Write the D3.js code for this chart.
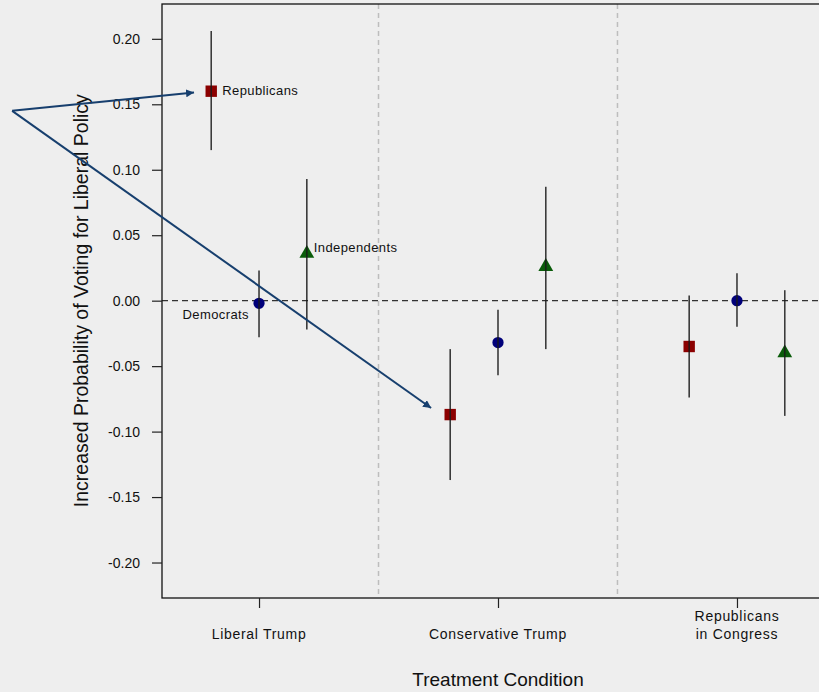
<!DOCTYPE html>
<html>
<head>
<meta charset="utf-8">
<script src="https://cdn.jsdelivr.net/npm/d3@7"></script>
<style>
  body { margin: 0; background: #eeeeee; }
  svg { display: block; font-family: "Liberation Sans", Arial, sans-serif; }
</style>
</head>
<body>
<svg id="mainsvg" width="819" height="692"></svg>
<script>
// conditions on the x axis
const conditions = ['Liberal Trump', 'Conservative Trump', 'Republicans\nin Congress'];
const groups = ['Republicans', 'Democrats', 'Independents'];
const groupOffset = [-0.2, 0, 0.2];

// point estimates and 95% intervals, per group, one value per condition
const estRep = [0.160, -0.087, -0.035];
const loRep = [0.115, -0.137, -0.074];
const hiRep = [0.206, -0.037, 0.004];

const estDem = [-0.002, -0.032, 0.000];
const loDem = [-0.028, -0.057, -0.020];
const hiDem = [0.023, -0.007, 0.021];

const estInd = [0.036, 0.026, -0.040];
const loInd = [-0.022, -0.037, -0.088];
const hiInd = [0.093, 0.087, 0.008];

const yTicks = [0.20, 0.15, 0.10, 0.05, 0.00, -0.05, -0.10, -0.15, -0.20];

// annotation arrows (data units): shared tail, two heads
const arrowTail = [-0.033, 0.145];
const arrowHeads = [[0.728, 0.159], [1.72, -0.082]];

const svg = d3.select('#mainsvg');
const margin = { top: 4, left: 162, right: -15, bottom: 94 };
const width = +svg.attr('width');
const height = +svg.attr('height');
const innerW = width - margin.left - margin.right;
const innerH = height - margin.top - margin.bottom;

const x = d3.scaleLinear().domain([0.594, 3.406]).range([margin.left, margin.left + innerW]);
const y = d3.scaleLinear().domain([-0.2271, 0.2266]).range([margin.top + innerH, margin.top]);

svg.append('rect').attr('width', width).attr('height', height).attr('fill', '#eeeeee');

// separators between conditions
svg.selectAll('.sep').data([1.5, 2.5]).enter()
    .append('line')
    .attr('x1', d => x(d)).attr('x2', d => x(d))
    .attr('y1', y.range()[1]).attr('y2', y.range()[0])
    .attr('stroke', '#bdbdbd')
    .attr('stroke-width', 1.5)
    .attr('stroke-dasharray', '5,4');

// zero reference line
svg.append('line')
    .attr('x1', x.range()[0]).attr('x2', x.range()[1])
    .attr('y1', y(0)).attr('y2', y(0))
    .attr('stroke', '#333')
    .attr('stroke-width', 1.2)
    .attr('stroke-dasharray', '6,4');

// frame
svg.append('rect')
    .attr('x', x.range()[0]).attr('y', y.range()[1])
    .attr('width', innerW).attr('height', innerH)
    .attr('fill', 'none').attr('stroke', '#111').attr('stroke-width', 1.3);

// y axis
const yAxis = d3.axisLeft(y).tickValues(yTicks).tickSize(10).tickPadding(12)
    .tickFormat(d3.format('.2f'));
const gy = svg.append('g').attr('transform', `translate(${margin.left},0)`).call(yAxis);
gy.select('.domain').remove();
gy.selectAll('.tick line').attr('stroke', '#222').attr('stroke-width', 1.2);
gy.selectAll('.tick text').attr('font-size', 14).attr('fill', '#111')
    .text(d => d3.format('.2f')(d).replace('−', '-'));

// x axis
const xAxis = d3.axisBottom(x).tickValues([1, 2, 3]).tickSize(10).tickFormat('');
const gx = svg.append('g').attr('transform', `translate(0,${margin.top + innerH})`).call(xAxis);
gx.select('.domain').remove();
gx.selectAll('.tick line').attr('stroke', '#222').attr('stroke-width', 1.2);

svg.selectAll('.cond').data(conditions).enter()
    .append('text')
    .attr('class', 'cond')
    .attr('text-anchor', 'middle')
    .attr('font-size', 14)
    .attr('letter-spacing', 0.7)
    .attr('fill', '#111')
    .each(function(d, i) {
        const lines = d.split('\n');
        const t = d3.select(this);
        const y0 = lines.length > 1 ? 621 : 639;
        lines.forEach((s, j) => {
            t.append('tspan').attr('x', x(i + 1)).attr('y', y0 + j * 18).text(s);
        });
    });

// axis titles
svg.append('text')
    .attr('x', x(2)).attr('y', 686)
    .attr('text-anchor', 'middle')
    .attr('font-size', 19)
    .attr('fill', '#111')
    .text('Treatment Condition');

svg.append('text')
    .attr('transform', `translate(88,${y(0)}) rotate(-90)`)
    .attr('text-anchor', 'middle')
    .attr('font-size', 19.5)
    .attr('fill', '#111')
    .text('Increased Probability of Voting for Liberal Policy');

// build point table
const series = [
    { name: 'Republicans', est: estRep, lo: loRep, hi: hiRep, shape: d3.symbolSquare, size: 130, color: '#8b0000' },
    { name: 'Democrats', est: estDem, lo: loDem, hi: hiDem, shape: d3.symbolCircle, size: 100, color: '#00007a' },
    { name: 'Independents', est: estInd, lo: loInd, hi: hiInd, shape: d3.symbolTriangle, size: 95, color: '#0a5c0a' }
];
const points = [];
series.forEach((s, k) => {
    conditions.forEach((c, i) => {
        points.push({ s: s, xv: i + 1 + groupOffset[k], est: s.est[i], lo: s.lo[i], hi: s.hi[i] });
    });
});

// markers
svg.selectAll('.pt').data(points).enter()
    .append('path')
    .attr('transform', d => `translate(${x(d.xv)},${y(d.est)})`)
    .attr('d', d => d3.symbol().type(d.s.shape).size(d.s.size)())
    .attr('fill', d => d.s.color);

// interval lines
svg.selectAll('.ci').data(points).enter()
    .append('line')
    .attr('x1', d => x(d.xv)).attr('x2', d => x(d.xv))
    .attr('y1', d => y(d.lo)).attr('y2', d => y(d.hi))
    .attr('stroke', '#1a1a1a')
    .attr('stroke-opacity', 0.85)
    .attr('stroke-width', 1.6);

// group labels
const labels = [
    { text: 'Republicans', xv: 1 + groupOffset[0], yv: estRep[0], dx: 11, dy: 4, anchor: 'start' },
    { text: 'Independents', xv: 1 + groupOffset[2], yv: estInd[0], dx: 7, dy: -2, anchor: 'start' },
    { text: 'Democrats', xv: 1 + groupOffset[1], yv: estDem[0], dx: -10, dy: 16, anchor: 'end' }
];
svg.selectAll('.lab').data(labels).enter()
    .append('text')
    .attr('x', d => x(d.xv) + d.dx)
    .attr('y', d => y(d.yv) + d.dy)
    .attr('text-anchor', d => d.anchor)
    .attr('font-size', 13)
    .attr('letter-spacing', 0.4)
    .attr('fill', '#111')
    .text(d => d.text);

// annotation arrows
const defs = svg.append('defs');
defs.append('marker')
    .attr('id', 'head')
    .attr('viewBox', '0 0 10 10')
    .attr('refX', 10).attr('refY', 5)
    .attr('markerWidth', 8).attr('markerHeight', 8)
    .attr('markerUnits', 'userSpaceOnUse')
    .attr('orient', 'auto')
    .append('path')
    .attr('d', 'M0,0 L10,5 L0,10 Z')
    .attr('fill', '#173f6e');

svg.selectAll('.arrow').data(arrowHeads).enter()
    .append('line')
    .attr('x1', x(arrowTail[0])).attr('y1', y(arrowTail[1]))
    .attr('x2', d => x(d[0])).attr('y2', d => y(d[1]))
    .attr('stroke', '#173f6e')
    .attr('stroke-width', 2)
    .attr('marker-end', 'url(#head)');
</script>
</body>
</html>
